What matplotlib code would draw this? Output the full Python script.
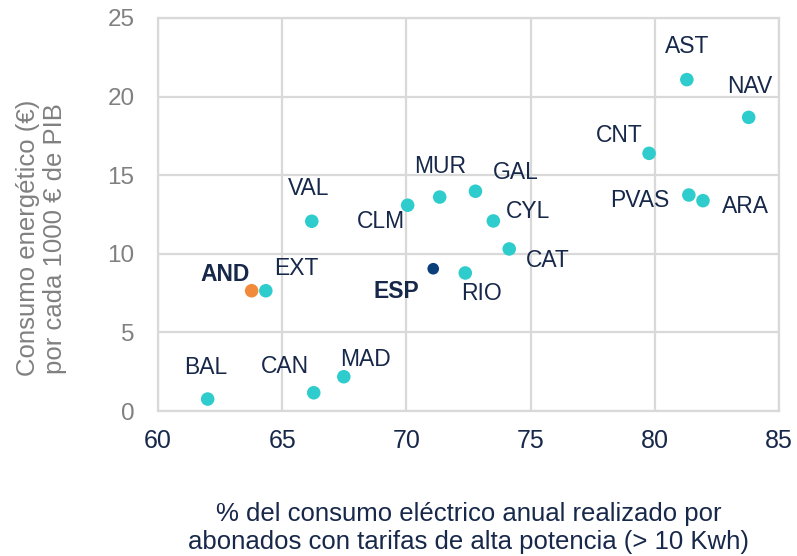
import matplotlib
matplotlib.use("Agg")
import matplotlib.pyplot as plt

regions = ["BAL", "CAN", "MAD", "AND", "EXT", "VAL", "CLM", "ESP", "MUR", "GAL",
           "CYL", "CAT", "RIO", "AST", "NAV", "CNT", "PVAS", "ARA"]
x_vals = [62.0, 66.27, 67.48, 63.77, 64.34, 66.19, 70.05, 71.08, 71.34, 72.78,
          73.5, 74.14, 72.37, 81.29, 83.78, 79.77, 81.37, 81.94]
y_vals = [0.76, 1.16, 2.18, 7.65, 7.65, 12.07, 13.09, 9.05, 13.61, 13.98,
          12.09, 10.31, 8.78, 21.08, 18.68, 16.39, 13.74, 13.38]
# label offsets in pixels (dx, dy)
offsets = {"BAL": (-2, 32), "CAN": (-29, 26), "MAD": (22, 17), "AND": (-27, 16),
           "EXT": (31, 22), "VAL": (-3, 33), "CLM": (-27, -16), "ESP": (-37, -23),
           "MUR": (0, 31), "GAL": (40, 19), "CYL": (35, 9), "CAT": (39, -12),
           "RIO": (16, -21), "AST": (0, 33), "NAV": (1, 31), "CNT": (-30, 18),
           "PVAS": (-49, -5), "ARA": (42, -6)}
x_ticks = [60, 65, 70, 75, 80, 85]
y_ticks = [0, 5, 10, 15, 20, 25]

plt.rcParams['font.family'] = ['Liberation Sans', 'DejaVu Sans']

TEAL = "#2ECCCC"
ORANGE = "#F28A3C"
NAVY = "#0B3F7A"
TXT = "#17284A"
GRID = "#D9D9D9"

fig = plt.figure(figsize=(7.97, 5.56), dpi=100)
ax = fig.add_axes([158/797, 1-411/556, (779-158)/797, (411-18)/556])

colors = []
for r in regions:
    if r == "AND":
        colors.append(ORANGE)
    elif r == "ESP":
        colors.append(NAVY)
    else:
        colors.append(TEAL)
sizes = [70 if r == "ESP" else 95 for r in regions]
ax.scatter(x_vals, y_vals, s=sizes, c=colors, zorder=3, linewidths=0)

for r, xv, yv in zip(regions, x_vals, y_vals):
    dx, dy = offsets[r]
    bold = r in ("AND", "ESP")
    ax.annotate(r, (xv, yv), xytext=(dx, dy), textcoords='offset pixels',
                ha='center', va='center', fontsize=16.5, color=TXT,
                fontweight='bold' if bold else 'normal', zorder=4)

ax.set_xlim(60, 85)
ax.set_ylim(0, 25)
ax.set_xticks(x_ticks)
ax.set_yticks(y_ticks)
ax.grid(True, color=GRID, linewidth=1.6, zorder=0)
ax.set_axisbelow(True)
for s in ax.spines.values():
    s.set_color(GRID)
    s.set_linewidth(1.6)
ax.tick_params(axis='both', length=0)
ax.tick_params(axis='y', labelsize=17.5, labelcolor="#808080", pad=17)
ax.tick_params(axis='x', labelsize=18, labelcolor=TXT, pad=13)

ax.set_xlabel("% del consumo eléctrico anual realizado por\nabonados con tarifas de alta potencia (> 10 Kwh)",
              fontsize=18.5, color=TXT, linespacing=1.2)
ax.xaxis.set_label_coords(0.5, -0.232)
ax.set_ylabel("Consumo energético (€)\npor cada 1000 € de PIB", fontsize=18.5,
              color="#808080", linespacing=1.15)
ax.yaxis.set_label_coords(-0.147, 0.44)

fig.savefig("out.png", dpi=100)
